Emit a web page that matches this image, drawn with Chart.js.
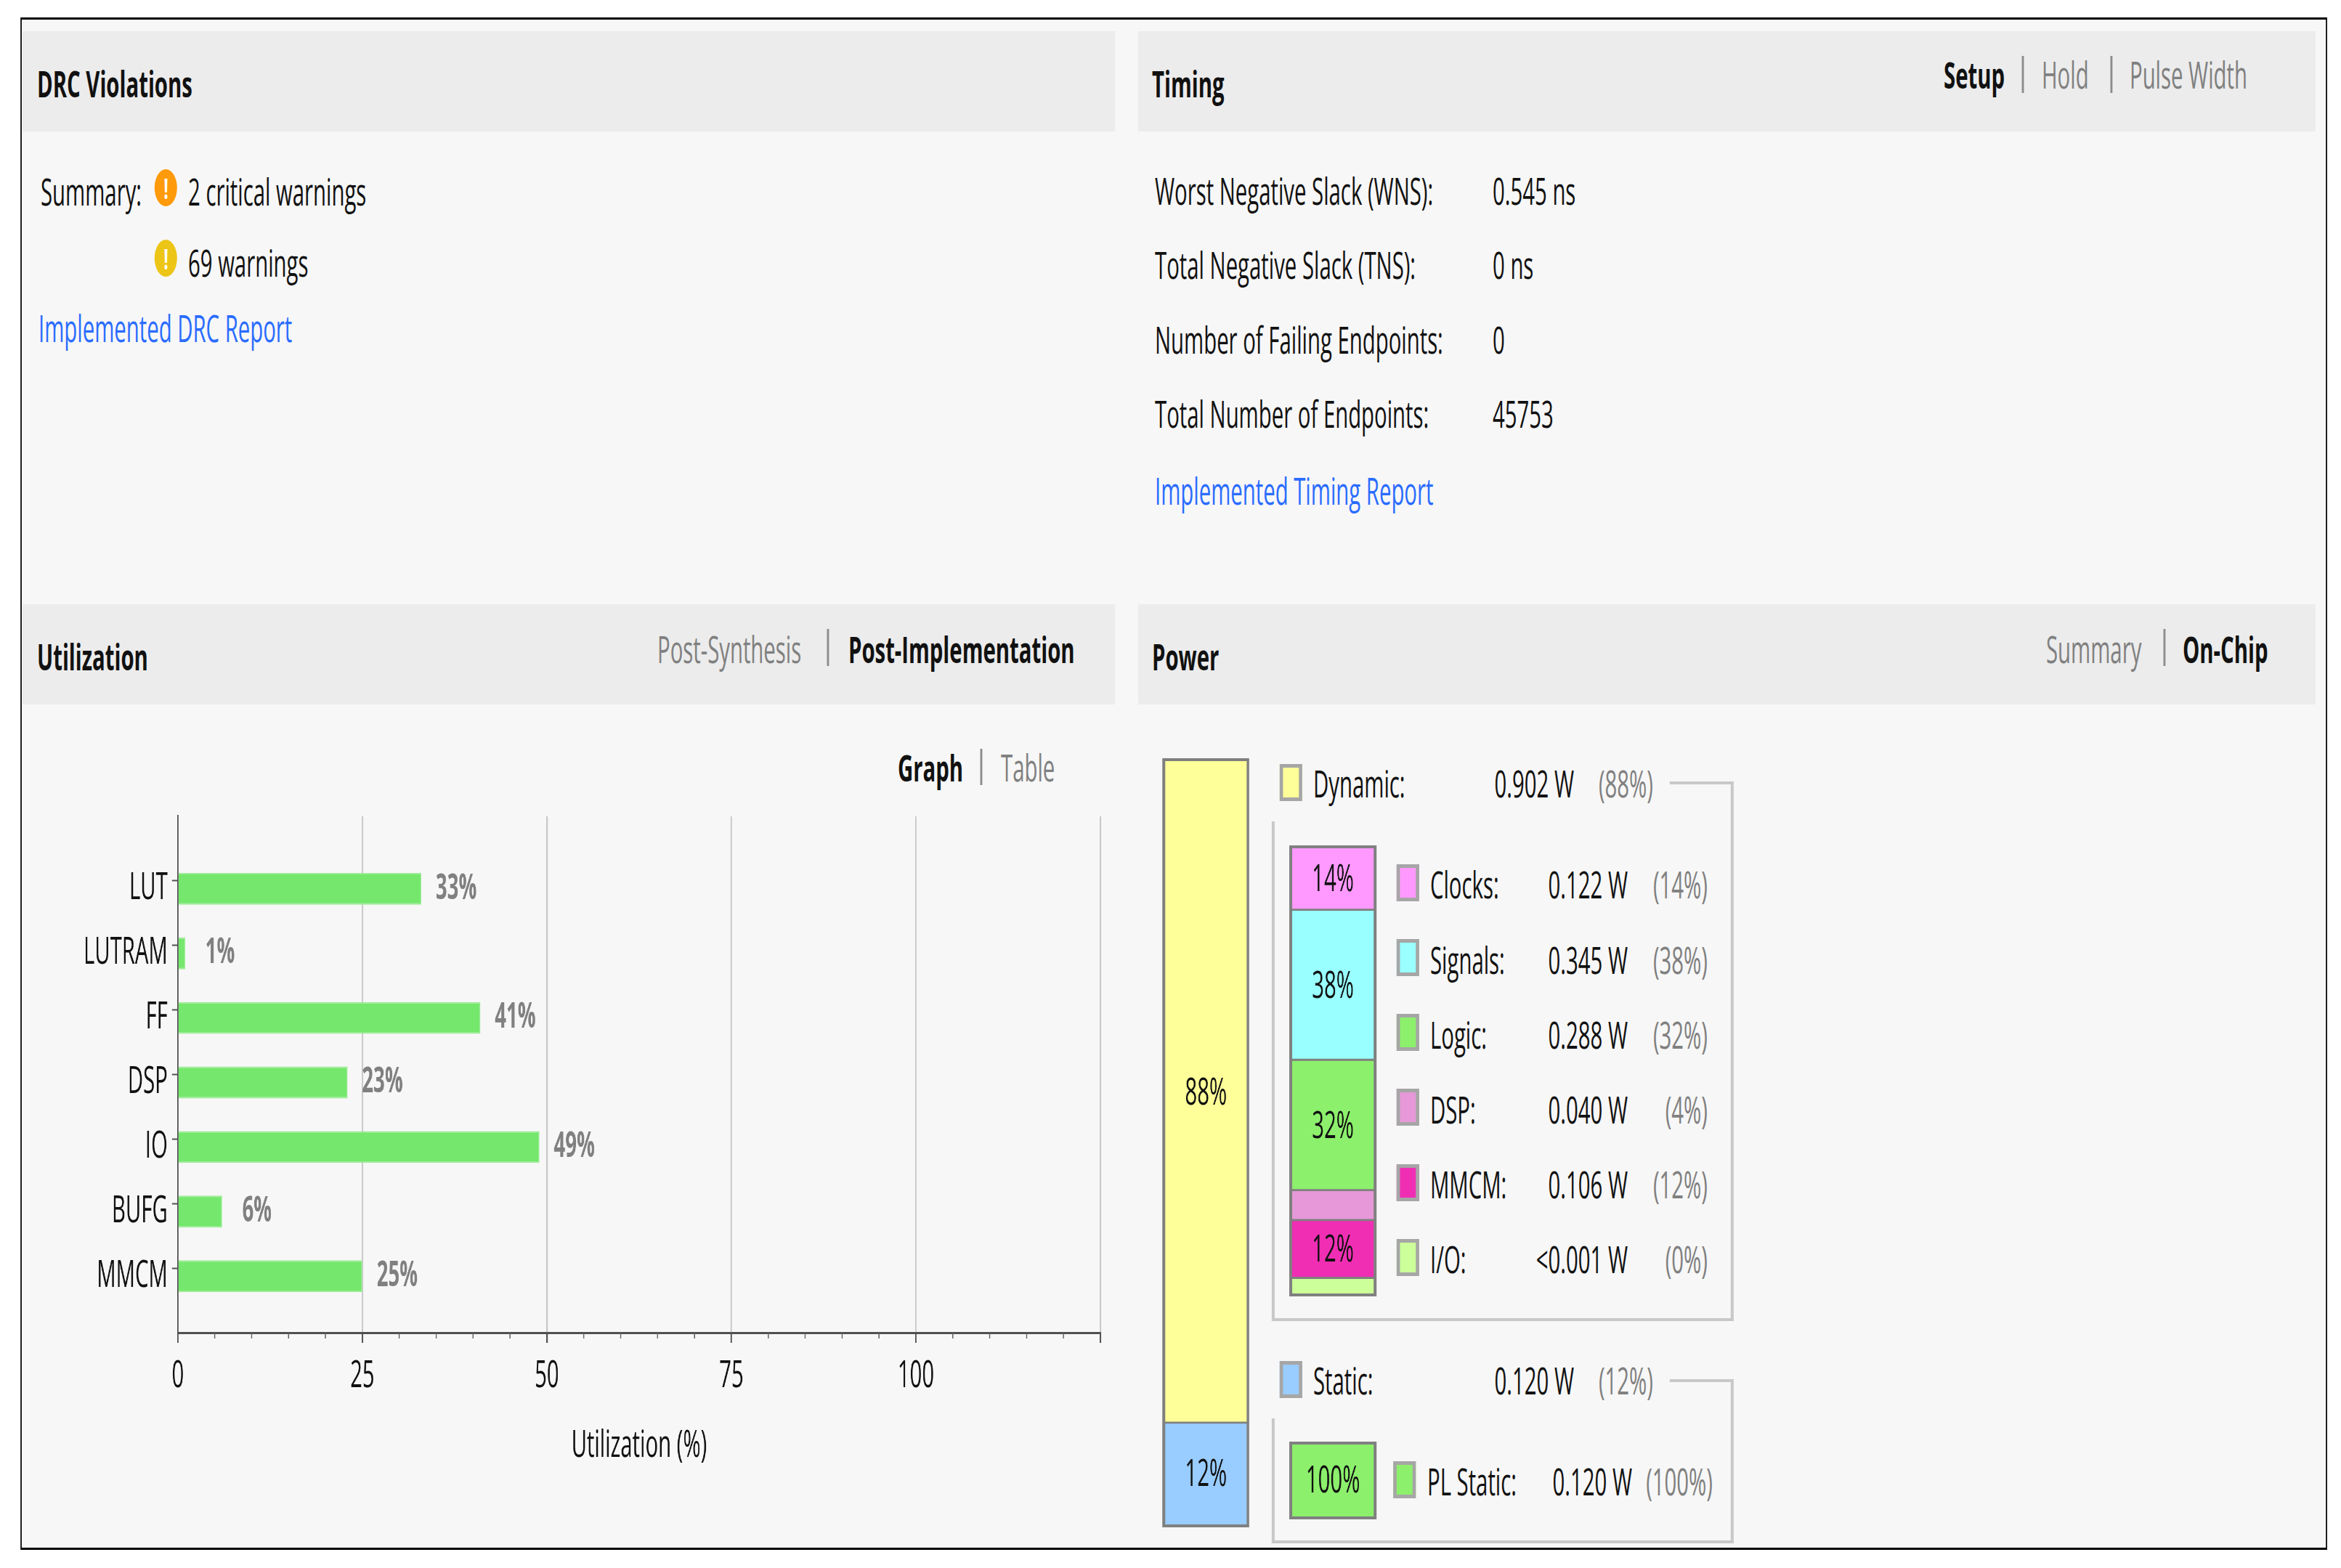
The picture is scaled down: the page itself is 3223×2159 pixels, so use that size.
<!DOCTYPE html>
<html>
<head>
<meta charset="utf-8">
<script src="https://cdn.jsdelivr.net/npm/chart.js@4"></script>
<style>
html, body { margin: 0; padding: 0; background: #fff; overflow: hidden; }
#stage { position: absolute; left: 0; top: 0; height: 2159px; transform-origin: 0 0; font-family: "Open Sans", sans-serif; font-size: 51px; color: #111; }
#stage div, #stage canvas { position: absolute; }
.t { white-space: nowrap; line-height: 1; }
</style>
</head>
<body>
<div id="stage"></div>
<script>
const utilCategories = ['LUT', 'LUTRAM', 'FF', 'DSP', 'IO', 'BUFG', 'MMCM'];
const utilValues = [33, 1, 41, 23, 49, 6, 25];

// segment sizes, they are not the printed percentages
const totalSizes = [86.8, 13.2];
const totalLabels = ['88%', '12%'];
const totalColors = ['#ffff99', '#99ccff'];

const dynamicSizes = [14, 33.7, 29.3, 6.7, 13, 3.3];
const dynamicLabels = ['14%', '38%', '32%', '', '12%', ''];
const dynamicColors = ['#ff99ff', '#99ffff', '#8cf06c', '#e698d8', '#f02eb4', '#ccff99'];

const staticSizes = [100];
const staticLabels = ['100%'];
const staticColors = ['#8cf06c'];

const dynamicNames = ['Clocks:', 'Signals:', 'Logic:', 'DSP:', 'MMCM:', 'I/O:'];
const dynamicWatts = ['0.122 W', '0.345 W', '0.288 W', '0.040 W', '0.106 W', '<0.001 W'];
const dynamicPercents = ['(14%)', '(38%)', '(32%)', '(4%)', '(12%)', '(0%)'];

const timingNames = ['Worst Negative Slack (WNS):', 'Total Negative Slack (TNS):', 'Number of Failing Endpoints:', 'Total Number of Endpoints:'];
const timingValues = ['0.545 ns', '0 ns', '0', '45753'];

const SQUEEZE = 0.575; // the reference is squashed horizontally, so is the whole stage
const stage = document.getElementById('stage');
stage.style.width = (3223 / SQUEEZE) + 'px';
stage.style.transform = 'scaleX(' + SQUEEZE + ')';

function X(px) { return px / SQUEEZE; }

function rect(x0, y0, x1, y1, css) {
    const d = document.createElement('div');
    d.style.left = X(x0) + 'px';
    d.style.top = y0 + 'px';
    d.style.width = X(x1 - x0) + 'px';
    d.style.height = (y1 - y0) + 'px';
    Object.assign(d.style, css || {});
    stage.appendChild(d);
    return d;
}

function text(x, y, str, opts) {
    opts = opts || {};
    const d = document.createElement('div');
    d.className = 't';
    d.textContent = str;
    d.style.left = X(x) + 'px';
    d.style.top = (y - 3) + 'px';
    d.style.transform = opts.right ? 'translate(-100%,-50%)' : 'translateY(-50%)';
    if (opts.bold) d.style.fontWeight = '700';
    d.style.color = opts.color || '#111';
    if (opts.size) d.style.fontSize = opts.size + 'px';
    stage.appendChild(d);
    return d;
}

const GREY = '#808080';
const LINK = '#2a6cff';
const LINE = '#c8c8c8';

// page frame and panels
rect(28, 24, 3204, 2134, { background: '#f7f7f7', boxSizing: 'border-box', border: '3px solid #000' });
rect(31, 43, 1535, 181, { background: '#ececec' });
rect(1567, 43, 3188, 181, { background: '#ececec' });
rect(31, 832, 1535, 970, { background: '#ececec' });
rect(1567, 832, 3188, 970, { background: '#ececec' });

function separator(x, y0, y1) { rect(x - 1.5, y0, x + 1.5, y1, { background: '#8c8c8c' }); }

function warnIcon(y, color) {
    const d = rect(213, y, 244, y + 51, { background: color, borderRadius: '50%' });
    const mark = document.createElement('div');
    mark.className = 't';
    mark.textContent = '!';
    Object.assign(mark.style, { left: 0, width: '100%', top: '6px', textAlign: 'center', color: '#fff', fontWeight: '700', fontSize: '40px' });
    d.appendChild(mark);
}

// DRC panel
text(51, 117, 'DRC Violations', { bold: true });
text(56, 266, 'Summary:');
warnIcon(233, '#ff9a0a');
text(259, 266, '2 critical warnings');
warnIcon(330, '#ecc516');
text(259, 364, '69 warnings');
text(53, 454, 'Implemented DRC Report', { color: LINK });

// timing panel
text(1586, 117, 'Timing', { bold: true });
text(2676, 105, 'Setup', { bold: true });
separator(2785, 77, 128);
text(2811, 105, 'Hold', { color: GREY });
separator(2907, 77, 128);
text(2932, 105, 'Pulse Width', { color: GREY });
const timingRows = [265, 367, 470, 572];
timingNames.forEach((name, i) => {
    text(1590, timingRows[i], name);
    text(2055, timingRows[i], timingValues[i]);
});
text(1590, 678, 'Implemented Timing Report', { color: LINK });

// utilization panel
text(51, 906, 'Utilization', { bold: true });
text(905, 896, 'Post-Synthesis', { color: GREY });
separator(1140, 866, 917);
text(1168, 896, 'Post-Implementation', { bold: true });
text(1236, 1059, 'Graph', { bold: true });
separator(1351, 1031, 1081);
text(1378, 1059, 'Table', { color: GREY });

// power panel
text(1586, 906, 'Power', { bold: true });
text(2817, 896, 'Summary', { color: GREY });
separator(2980, 866, 917);
text(3005, 896, 'On-Chip', { bold: true });

function swatch(x, y, color) {
    rect(x, y, x + 31, y + 51, {
        background: color, boxSizing: 'border-box',
        borderStyle: 'solid', borderColor: '#a6a6a6',
        borderWidth: '5px ' + X(5) + 'px'
    });
}

function bracket(topY, leftTop, bottomY) {
    const line = { background: LINE };
    rect(2299, topY - 2, 2387, topY + 2, line);
    rect(2383, topY - 2, 2387, bottomY + 2, line);
    rect(1751, bottomY - 2, 2387, bottomY + 2, line);
    rect(1751, leftTop, 1755, bottomY + 2, line);
}

swatch(1762, 1052, totalColors[0]);
text(1808, 1081, 'Dynamic:');
text(2167, 1081, '0.902 W', { right: true });
text(2276, 1081, '(88%)', { right: true, color: GREY });
bracket(1078, 1131, 1817);

const legendSwatchY = [1190, 1293, 1396, 1499, 1603, 1706];
const legendTextY = [1220, 1324, 1427, 1530, 1633, 1736];
dynamicNames.forEach((name, i) => {
    swatch(1923, legendSwatchY[i], dynamicColors[i]);
    text(1969, legendTextY[i], name);
    text(2241, legendTextY[i], dynamicWatts[i], { right: true });
    text(2351, legendTextY[i], dynamicPercents[i], { right: true, color: GREY });
});

swatch(1762, 1874, totalColors[1]);
text(1808, 1903, 'Static:');
text(2167, 1903, '0.120 W', { right: true });
text(2276, 1903, '(12%)', { right: true, color: GREY });
bracket(1901, 1953, 2123);

swatch(1918, 2012, staticColors[0]);
text(1965, 2042, 'PL Static:');
text(2247, 2042, '0.120 W', { right: true });
text(2358, 2042, '(100%)', { right: true, color: GREY });

function addCanvas(x0, y0, x1, y1) {
    const c = document.createElement('canvas');
    c.style.left = X(x0) + 'px';
    c.style.top = y0 + 'px';
    c.width = Math.round(X(x1 - x0));
    c.height = y1 - y0;
    stage.appendChild(c);
    return c;
}

const FONT = '"Open Sans", sans-serif';

// green value labels and the short minor ticks of the x axis
const utilPlugin = {
    id: 'utilExtras',
    afterDraw(chart) {
        const { ctx, scales } = chart;
        ctx.save();
        ctx.strokeStyle = '#606060';
        ctx.lineWidth = 2.5;
        scales.x.ticks.forEach(t => {
            if (t.value % 25 === 0) return;
            const px = scales.x.getPixelForValue(t.value);
            ctx.beginPath();
            ctx.moveTo(px, scales.x.top);
            ctx.lineTo(px, scales.x.top + 8);
            ctx.stroke();
        });
        ctx.font = '700 48px ' + FONT;
        ctx.fillStyle = GREY;
        ctx.textAlign = 'center';
        ctx.textBaseline = 'middle';
        chart.getDatasetMeta(1).data.forEach((bar, i) => {
            const v = chart.data.datasets[1].data[i];
            if (v === null) return;
            ctx.fillText(v + '%', bar.x + X(48), bar.y);
        });
        ctx.restore();
    }
};

// canvas covers x 60-1560, y 1100-2040; plot area is x 245-1515, y 1124-1835
new Chart(addCanvas(60, 1100, 1560, 2040), {
    type: 'bar',
    data: {
        labels: ['', ...utilCategories, ''],
        datasets: [
            // empty first dataset pushes the bars a little below their ticks, as in the reference
            { data: [null, ...utilCategories.map(() => null), null] },
            {
                data: [null, ...utilValues, null],
                backgroundColor: '#74e76c',
                borderColor: '#9cec96',
                borderWidth: 2
            }
        ]
    },
    options: {
        indexAxis: 'y',
        responsive: false,
        animation: false,
        devicePixelRatio: 1,
        barPercentage: 2,
        categoryPercentage: 0.495,
        layout: { padding: { top: 24, right: X(45), left: 0, bottom: 0 } },
        plugins: { legend: { display: false }, tooltip: { enabled: false } },
        scales: {
            x: {
                type: 'linear',
                min: 0,
                max: 125,
                afterFit(s) { s.height = 205; },
                title: {
                    display: true,
                    text: 'Utilization (%)',
                    color: '#111',
                    font: { family: FONT, size: 51 },
                    padding: { top: 0, bottom: 18 }
                },
                border: { color: '#505050', width: 3 },
                grid: {
                    tickLength: 14,
                    color: c => (c.tick && c.tick.value % 25 === 0 && c.tick.value > 0) ? LINE : 'transparent',
                    tickColor: c => (c.tick && c.tick.value % 25 === 0) ? '#505050' : 'transparent',
                    lineWidth: 3.5,
                    tickWidth: 3.5
                },
                ticks: {
                    stepSize: 5,
                    autoSkip: false,
                    maxRotation: 0,
                    padding: 16,
                    color: '#111',
                    font: { family: FONT, size: 51 },
                    callback: v => (v % 25 === 0 && v <= 100) ? v : ''
                }
            },
            y: {
                offset: false,
                afterFit(s) {
                    s.width = X(185);
                    s.paddingTop = 0;
                    s.paddingBottom = 0;
                },
                border: { color: '#505050', width: 3.5 },
                grid: {
                    offset: false,
                    drawOnChartArea: false,
                    tickLength: X(8),
                    tickColor: c => (c.index === 0 || c.index === 8) ? 'transparent' : '#505050',
                    tickWidth: 2
                },
                ticks: {
                    autoSkip: false,
                    labelOffset: 11,
                    padding: X(6),
                    color: '#111',
                    font: { family: FONT, size: 51 }
                }
            }
        }
    },
    plugins: [utilPlugin]
});

const segmentLabels = {
    id: 'segmentLabels',
    afterDraw(chart) {
        const { ctx } = chart;
        ctx.save();
        ctx.font = '51px ' + FONT;
        ctx.fillStyle = '#111';
        ctx.textAlign = 'center';
        ctx.textBaseline = 'middle';
        chart.data.datasets.forEach((ds, i) => {
            if (!ds.label) return;
            const el = chart.getDatasetMeta(i).data[0];
            ctx.fillText(ds.label, el.x, (el.y + el.base) / 2 + 2);
        });
        ctx.restore();
    }
};

function stackChart(x0, y0, x1, y1, sizes, labels, colors) {
    const box = rect(x0, y0, x1, y1, { boxSizing: 'border-box', background: '#808080' });
    const canvas = addCanvas(x0 + 4, y0 + 4, x1 - 4, y1 - 4);
    new Chart(canvas, {
        type: 'bar',
        data: {
            labels: [''],
            datasets: sizes.map((v, i) => ({
                label: labels[i],
                data: [v],
                backgroundColor: colors[i],
                borderColor: '#808080',
                borderWidth: { top: 0, left: 0, right: 0, bottom: i < sizes.length - 1 ? 3 : 0 },
                borderSkipped: false
            }))
        },
        options: {
            responsive: false,
            animation: false,
            devicePixelRatio: 1,
            barPercentage: 1,
            categoryPercentage: 1,
            layout: { padding: 0 },
            plugins: { legend: { display: false }, tooltip: { enabled: false } },
            scales: {
                x: { display: false, stacked: true },
                y: { display: false, stacked: true, reverse: true, min: 0, max: sizes.reduce((a, b) => a + b, 0) }
            }
        },
        plugins: [segmentLabels]
    });
    return box;
}

stackChart(1600, 1044, 1720, 2103, totalSizes, totalLabels, totalColors);
stackChart(1775, 1164, 1895, 1785, dynamicSizes, dynamicLabels, dynamicColors);
stackChart(1775, 1985, 1895, 2092, staticSizes, staticLabels, staticColors);
</script>
</body>
</html>
